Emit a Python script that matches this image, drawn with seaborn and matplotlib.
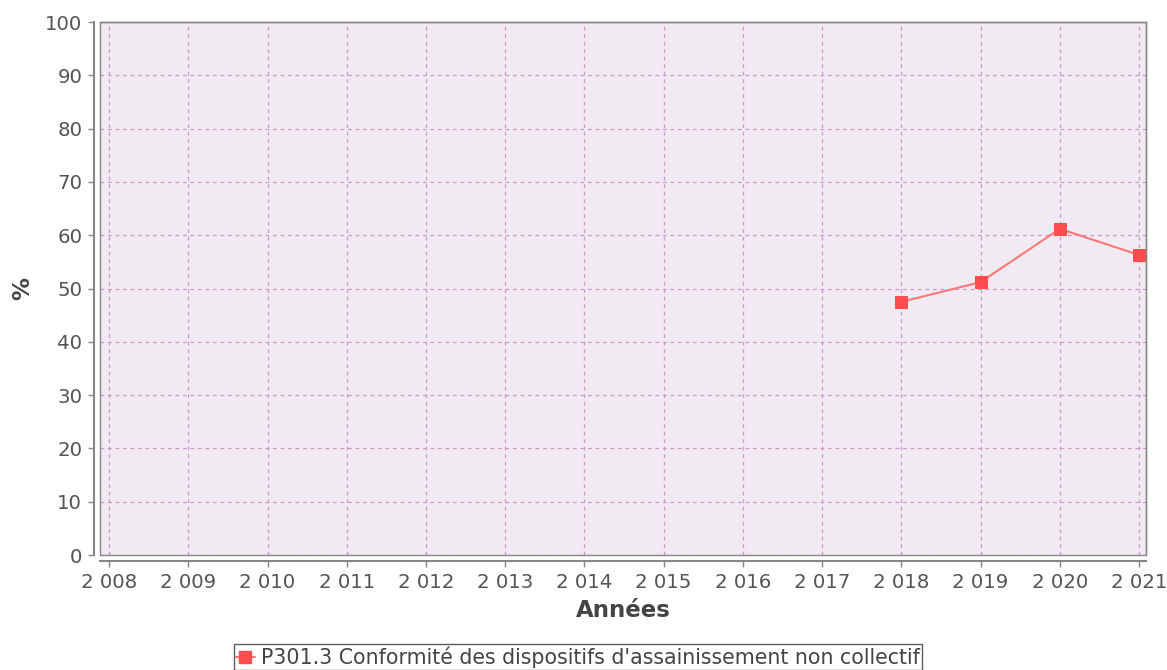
import matplotlib.pyplot as plt
import matplotlib.patches as mpatches
import pandas as pd
import seaborn as sns

# Données
annees = [2018, 2019, 2020, 2021]
valeurs = [47.5, 51.2, 61.2, 56.3]
serie = "P301.3 Conformité des dispositifs d'assainissement non collectif"

ticks_x = list(range(2008, 2022))
labels_x = [f"{a // 1000} {a % 1000:03d}" for a in ticks_x]
ticks_y = list(range(0, 101, 10))

df = pd.DataFrame({"Années": annees, "%": valeurs, "serie": serie})

sns.set_style("white")
plt.rcParams["font.family"] = ["DejaVu Sans"]

fig = plt.figure(figsize=(11.67, 6.70), dpi=100)
ax = fig.add_axes([0.0857, 0.1716, 0.8963, 0.7955])
ax.set_facecolor("#f2eaf3")

sns.lineplot(
    data=df, x="Années", y="%", hue="serie", palette=["#ff7777"],
    marker="s", markersize=9, markerfacecolor="#ff4d4d", markeredgecolor="#ff4d4d",
    linewidth=1.5, ax=ax, legend=False,
)

ax.set_xlim(2007.886, 2021.088)
ax.set_ylim(0, 100)
ax.set_xticks(ticks_x)
ax.set_xticklabels(labels_x)
ax.set_yticks(ticks_y)

ax.grid(True, color="#c89ac8", linestyle=(0, (3, 3)), linewidth=0.9)
ax.set_axisbelow(True)

for side in ["top", "right"]:
    ax.spines[side].set_color("#888888")
    ax.spines[side].set_linewidth(1.0)
for side in ["left", "bottom"]:
    ax.spines[side].set_position(("outward", 4.3))
    ax.spines[side].set_color("#888888")
    ax.spines[side].set_linewidth(1.5)

# contour de la zone de tracé
ax.add_patch(mpatches.Rectangle((0, 0), 1, 1, transform=ax.transAxes,
                                fill=False, edgecolor="#888888", linewidth=1.0,
                                clip_on=False, zorder=5))

ax.tick_params(axis="both", which="major", length=4, width=1, color="#888888",
               labelsize=14.2, labelcolor="#555555", direction="out",
               bottom=True, left=True, pad=4.5)

ax.set_xlabel("Années", fontsize=16.5, fontweight="bold", color="#444444", labelpad=5)
ax.set_ylabel("%", fontsize=16.5, fontweight="bold", color="#444444", labelpad=8)

handle = plt.Line2D([], [], color="#ff7777", marker="s", markersize=8,
                    markerfacecolor="#ff4d4d", markeredgecolor="#ff4d4d", linewidth=1.5)
leg = fig.legend([handle], [serie], loc="upper center", bbox_to_anchor=(0.4953, 0.0388),
                 frameon=True, fancybox=False, fontsize=14.8, handlelength=0.9,
                 handletextpad=0.3, borderpad=0.12, borderaxespad=0)
leg.get_frame().set_edgecolor("#333333")
leg.get_frame().set_linewidth(1.0)
for t in leg.get_texts():
    t.set_color("#444444")

fig.savefig("out.png", dpi=100)
